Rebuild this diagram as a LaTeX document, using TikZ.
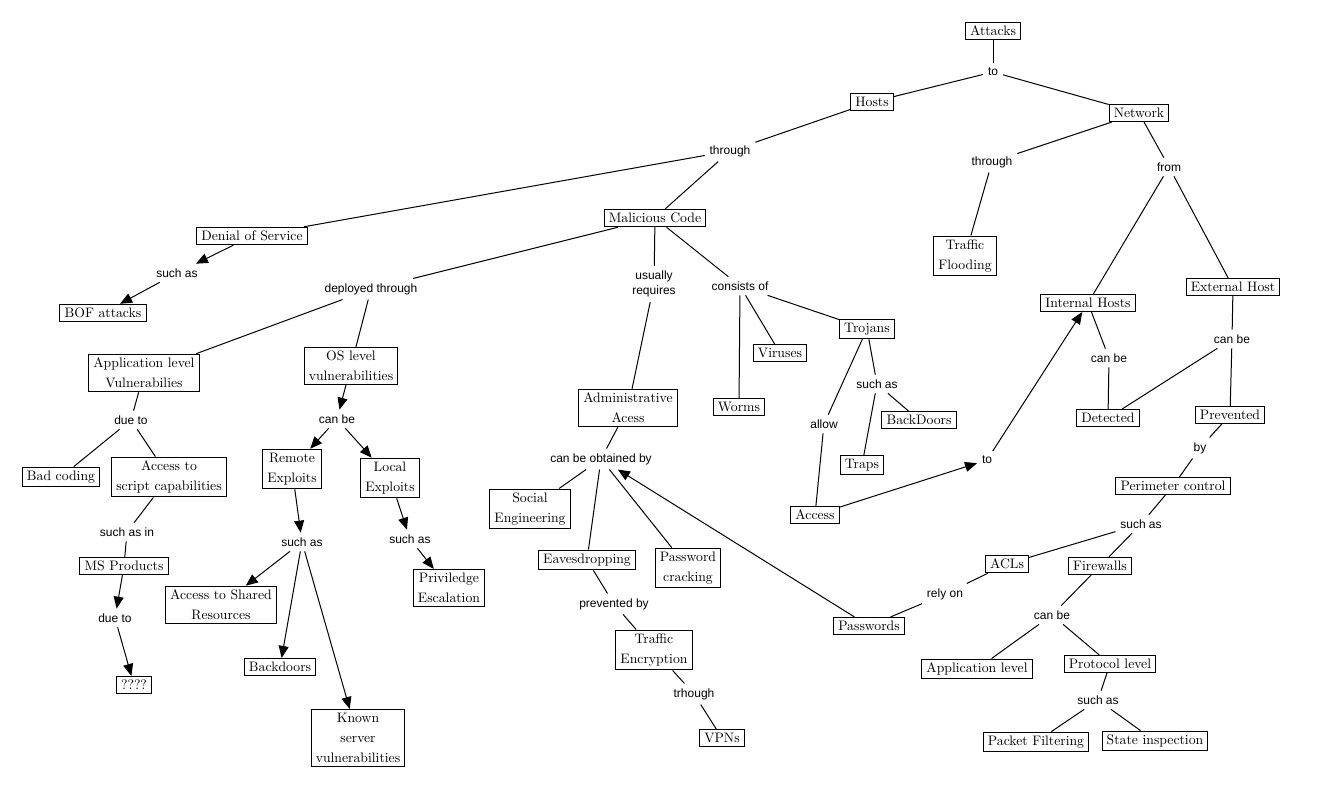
\documentclass[tikz,border=0pt]{standalone}
\usepackage{fontspec}
\newfontfamily\lblfont{Liberation Sans}
\usetikzlibrary{arrows.meta}
\tikzset{
  box/.style={draw, line width=0.75pt, inner xsep=3.5pt, inner ysep=2.8pt,
    font=\fontsize{10.3}{15}\selectfont, align=center},
  lbl/.style={inner sep=3.5pt, font=\lblfont\fontsize{9}{11.25}\selectfont, align=center},
  ln/.style={line width=0.75pt},
  arr/.style={ln, -{Triangle[length=9pt,width=7.5pt]}}
}
\begin{document}
\begin{tikzpicture}[x=0.75pt,y=-0.75pt]
\useasboundingbox[fill=white] (0,0) rectangle (1322,810);
% nodes
\node[box] (attacks) at (993,31) {Attacks};
\node[lbl] (lto1) at (993,72) {to};
\node[box] (hosts) at (872,102) {Hosts};
\node[box] (network) at (1139,113) {Network};
\node[lbl] (lthr1) at (730,151) {through};
\node[lbl] (lthr2) at (992,162) {through};
\node[lbl] (lfrom) at (1169,167) {from};
\node[box] (flood) at (965,256) {Traffic\\Flooding};
\node[box] (inth) at (1088,303) {Internal Hosts};
\node[box] (exth) at (1233,287) {External Host};
\node[box] (mal) at (655,218) {Malicious Code};
\node[box] (dos) at (252,236) {Denial of Service};
\node[lbl] (lsa1) at (177,273) {such as};
\node[box] (bof) at (103,313) {BOF attacks};
\node[lbl] (ldep) at (371,289) {deployed through};
\node[box] (appv) at (144,373) {Application level\\Vulnerabilies};
\node[box] (osv) at (351,366) {OS level\\vulnerabilities};
\node[lbl] (ldue1) at (131,420) {due to};
\node[box] (badc) at (61,477) {Bad coding};
\node[box] (ascript) at (169,477) {Access to\\script capabilities};
\node[lbl] (lcanbe1) at (337,419) {can be};
\node[box] (remote) at (292,469) {Remote\\Exploits};
\node[box] (local) at (390,478) {Local\\Exploits};
\node[lbl] (lsain) at (127,532) {such as in};
\node[box] (msp) at (124,566) {MS Products};
\node[lbl] (ldue2) at (115,618) {due to};
\node[box] (qqqq) at (134,685) {????};
\node[lbl] (lsa2) at (302,542) {such as};
\node[box] (shared) at (221,605) {Access to Shared\\Resources};
\node[box] (backd) at (280,667) {Backdoors};
\node[box] (known) at (358,738) {Known\\server\\vulnerabilities};
\node[lbl] (lsa3) at (410,539) {such as};
\node[box] (priv) at (449,588) {Priviledge\\Escalation};
\node[lbl] (lreq) at (654,284) {usually\\requires};
\node[lbl] (lcons) at (740,286) {consists of};
\node[box] (admin) at (628,408) {Administrative\\Acess};
\node[box] (worms) at (739,407) {Worms};
\node[box] (viruses) at (780,353) {Viruses};
\node[box] (trojans) at (867,329) {Trojans};
\node[lbl] (lsa4) at (877,384) {such as};
\node[box] (backd2) at (919,420) {BackDoors};
\node[box] (traps) at (862,465) {Traps};
\node[lbl] (lallow) at (824,424) {allow};
\node[box] (access) at (815,515) {Access};
\node[lbl] (lto2) at (987,460) {to};
\node[lbl] (lcbob) at (601,459) {can be obtained by};
\node[box] (social) at (530,509) {Social\\Engineering};
\node[box] (eaves) at (587,560) {Eavesdropping};
\node[box] (pwc) at (688,568) {Password\\cracking};
\node[box] (pw) at (869,626) {Passwords};
\node[lbl] (lprev) at (614,604) {prevented by};
\node[box] (tenc) at (654,650) {Traffic\\Encryption};
\node[lbl] (ltrh) at (694,694) {trhough};
\node[box] (vpn) at (722,738) {VPNs};
\node[lbl] (lcanbe2) at (1109,358) {can be};
\node[box] (detected) at (1108,418) {Detected};
\node[lbl] (lcanbe3) at (1232,339) {can be};
\node[box] (prevented) at (1230,415) {Prevented};
\node[lbl] (lby) at (1200,448) {by};
\node[box] (perim) at (1173,486) {Perimeter control};
\node[lbl] (lsa5) at (1141,524) {such as};
\node[box] (acls) at (1007,564) {ACLs};
\node[box] (firewalls) at (1100,566) {Firewalls};
\node[lbl] (lrely) at (945,594) {rely on};
\node[lbl] (lcanbe4) at (1052,615) {can be};
\node[box] (applevel) at (977,669) {Application level};
\node[box] (protlevel) at (1110,664) {Protocol level};
\node[lbl] (lsa6) at (1098,700) {such as};
\node[box] (packet) at (1036,742) {Packet Filtering};
\node[box] (state) at (1155,741) {State inspection};
% plain links
\draw[ln] (attacks) -- (lto1);
\draw[ln] (lto1) -- (hosts);
\draw[ln] (lto1) -- (network);
\draw[ln] (hosts) -- (lthr1);
\draw[ln] (lthr1) -- (dos);
\draw[ln] (lthr1) -- (mal);
\draw[ln] (network) -- (lthr2);
\draw[ln] (lthr2) -- (flood);
\draw[ln] (network) -- (lfrom);
\draw[ln] (lfrom) -- (inth);
\draw[ln] (lfrom) -- (exth);
\draw[ln] (mal) -- (ldep);
\draw[ln] (ldep) -- (appv);
\draw[ln] (ldep) -- (osv);
\draw[ln] (mal) -- (lreq);
\draw[ln] (lreq) -- (admin);
\draw[ln] (mal) -- (lcons);
\draw[ln] (lcons) -- (worms);
\draw[ln] (lcons) -- (viruses);
\draw[ln] (lcons) -- (trojans);
\draw[ln] (appv) -- (ldue1);
\draw[ln] (ldue1) -- (badc);
\draw[ln] (ldue1) -- (ascript);
\draw[ln] (ascript) -- (lsain);
\draw[ln] (lsain) -- (msp);
\draw[ln] (admin) -- (lcbob);
\draw[ln] (lcbob) -- (social);
\draw[ln] (lcbob) -- (eaves);
\draw[ln] (lcbob) -- (pwc);
\draw[ln] (eaves) -- (lprev);
\draw[ln] (lprev) -- (tenc);
\draw[ln] (tenc) -- (ltrh);
\draw[ln] (ltrh) -- (vpn);
\draw[ln] (trojans) -- (lallow);
\draw[ln] (lallow) -- (access);
\draw[ln] (trojans) -- (lsa4);
\draw[ln] (lsa4) -- (traps);
\draw[ln] (lsa4) -- (backd2);
\draw[ln] (inth) -- (lcanbe2);
\draw[ln] (lcanbe2) -- (detected);
\draw[ln] (exth) -- (lcanbe3);
\draw[ln] (lcanbe3) -- (detected);
\draw[ln] (lcanbe3) -- (prevented);
\draw[ln] (prevented) -- (lby);
\draw[ln] (lby) -- (perim);
\draw[ln] (perim) -- (lsa5);
\draw[ln] (lsa5) -- (acls);
\draw[ln] (lsa5) -- (firewalls);
\draw[ln] (acls) -- (lrely);
\draw[ln] (lrely) -- (pw);
\draw[ln] (firewalls) -- (lcanbe4);
\draw[ln] (lcanbe4) -- (applevel);
\draw[ln] (lcanbe4) -- (protlevel);
\draw[ln] (protlevel) -- (lsa6);
\draw[ln] (lsa6) -- (packet);
\draw[ln] (lsa6) -- (state);
% arrows
\draw[arr] (dos) -- (lsa1);
\draw[arr] (lsa1) -- (bof);
\draw[arr] (osv) -- (lcanbe1);
\draw[arr] (lcanbe1) -- (remote);
\draw[arr] (lcanbe1) -- (local);
\draw[arr] (msp) -- (ldue2);
\draw[arr] (ldue2) -- (qqqq);
\draw[arr] (remote) -- (lsa2);
\draw[arr] (lsa2) -- (shared);
\draw[arr] (lsa2) -- (backd);
\draw[arr] (lsa2) -- (known);
\draw[arr] (local) -- (lsa3);
\draw[arr] (lsa3) -- (priv);
\draw[arr] (pw) -- (lcbob);
\draw[arr] (access) -- (lto2);
\draw[arr] (lto2) -- (inth);
\end{tikzpicture}
\end{document}
